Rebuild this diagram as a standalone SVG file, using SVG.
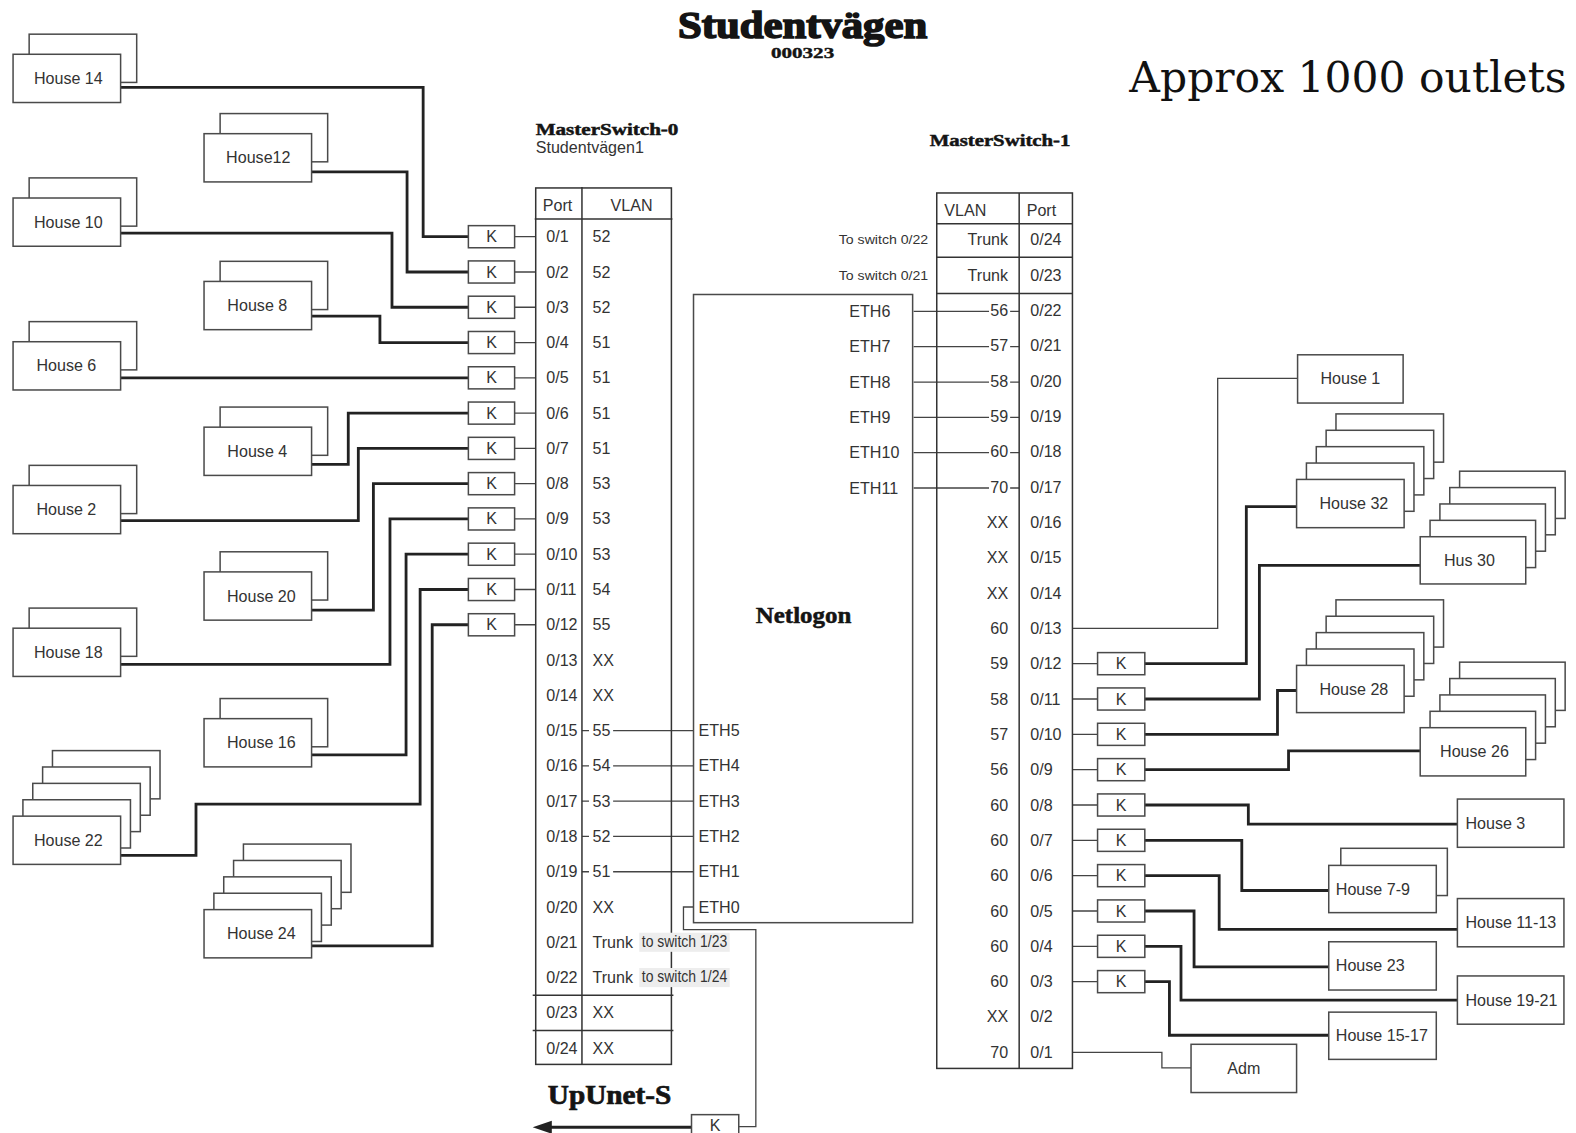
<svg xmlns="http://www.w3.org/2000/svg" width="1576" height="1133" viewBox="0 0 1576 1133">
<style>
.t{font-family:"Liberation Sans",Arial,sans-serif;font-size:16px;fill:#333}
.m{text-anchor:middle}
.e{text-anchor:end}
.s{font-size:13.5px}
.hd{font-family:"Liberation Serif","Times New Roman",serif;font-weight:bold;fill:#141414;stroke:#141414}
.box{fill:#fff;stroke:#4a4a4a;stroke-width:1.5}
.thin{fill:none;stroke:#444;stroke-width:1.3}
.thick{fill:none;stroke:#222;stroke-width:2.8}
.tbl{fill:none;stroke:#333;stroke-width:1.5}
.bg{fill:#ededed}
</style>
<rect width="1576" height="1133" fill="#fff"/>
<g transform="scale(1.0051)">
<g id="titles">
<text class="hd" x="674.5" y="37.5" font-size="38" stroke-width="1.6" textLength="248" lengthAdjust="spacingAndGlyphs">Studentvägen</text>
<text class="hd" x="767" y="58" font-size="15" stroke-width="0.4" textLength="63" lengthAdjust="spacingAndGlyphs">000323</text>
<text x="1123.6" y="91.2" font-family="DejaVu Serif,serif" font-size="42" fill="#111" textLength="435" lengthAdjust="spacingAndGlyphs">Approx 1000 outlets</text>
<text class="hd" x="533" y="134" font-size="17" stroke-width="0.5" textLength="142" lengthAdjust="spacingAndGlyphs">MasterSwitch-0</text>
<text class="t" x="533" y="152.5" font-size="16.5">Studentvägen1</text>
<text class="hd" x="925" y="145" font-size="17" stroke-width="0.5" textLength="140" lengthAdjust="spacingAndGlyphs">MasterSwitch-1</text>
<text class="hd" x="545" y="1098" font-size="27" stroke-width="0.7" textLength="123" lengthAdjust="spacingAndGlyphs">UpUnet-S</text>
</g>

<g id="connectors">
<path class="thick" d="M120,87H421V235.5H466"/>
<path class="thick" d="M310,171H405V270.6H466"/>
<path class="thick" d="M120,232H390V305.7H466"/>
<path class="thick" d="M310,314.5H378V340.8H466"/>
<path class="thick" d="M120,375.9H466"/>
<path class="thick" d="M310,462H346.5V411H466"/>
<path class="thick" d="M120,518H356.5V446.1H466"/>
<path class="thick" d="M310,607H371.5V481.2H466"/>
<path class="thick" d="M120,661H388V516.3H466"/>
<path class="thick" d="M310,751H404V551.4H466"/>
<path class="thick" d="M120,851H195V800H418V586.5H466"/>
<path class="thick" d="M310,941H430V621.6H466"/>
<path class="thin" d="M512,235.5H533M512,270.6H533M512,305.7H533M512,340.8H533M512,375.9H533M512,411H533M512,446.1H533M512,481.2H533M512,516.3H533M512,551.4H533M512,586.5H533M512,621.6H533"/>
<path class="thin" d="M579,726.9H586M610,726.9H690M579,762H586M610,762H690M579,797.1H586M610,797.1H690M579,832.2H586M610,832.2H690M579,867.3H586M610,867.3H690"/>
<path class="thin" d="M690,902.4H680V925H752V1121H735"/>
<path class="thick" d="M688,1121.5H546"/>
<polygon points="530,1121.5 549,1115 549,1128" fill="#222"/>
<path class="thin" d="M909,309.8H984M1005,309.8H1014M909,344.95H984M1005,344.95H1014M909,380.1H984M1005,380.1H1014M909,415.25H984M1005,415.25H1014M909,450.4H984M1005,450.4H1014M909,485.55H984M1005,485.55H1014"/>
<path class="thin" d="M1067,660.3H1092M1067,695.45H1092M1067,730.6H1092M1067,765.75H1092M1067,800.9H1092M1067,836.05H1092M1067,871.2H1092M1067,906.35H1092M1067,941.5H1092M1067,976.65H1092"/>
<path class="thin" d="M1067,625.15H1211.5V376.5H1291"/>
<path class="thin" d="M1067,1046.95H1156V1062.5H1185"/>
<path class="thick" d="M1139,660.3H1240V504H1290"/>
<path class="thick" d="M1139,695.45H1253V562.5H1413"/>
<path class="thick" d="M1139,730.6H1271V687H1290"/>
<path class="thick" d="M1139,765.75H1282V747H1413"/>
<path class="thick" d="M1139,800.9H1242V820H1450"/>
<path class="thick" d="M1139,836.05H1235.5V886H1322"/>
<path class="thick" d="M1139,871.2H1213V924.6H1450"/>
<path class="thick" d="M1139,906.35H1188V962H1322"/>
<path class="thick" d="M1139,941.5H1175V995H1450"/>
<path class="thick" d="M1139,976.65H1163.5V1030H1322"/>
</g>

<g id="house14"><rect class="box" x="29" y="34" width="107" height="48"/><rect class="box" x="13" y="54" width="107" height="48"/><text class="t m" x="68" y="83.5">House 14</text></g>
<g id="house12"><rect class="box" x="219" y="113" width="107" height="48"/><rect class="box" x="203" y="133" width="107" height="48"/><text class="t m" x="257" y="162.5">House12</text></g>
<g id="house10"><rect class="box" x="29" y="177" width="107" height="48"/><rect class="box" x="13" y="197" width="107" height="48"/><text class="t m" x="68" y="226.5">House 10</text></g>
<g id="house8"><rect class="box" x="219" y="260" width="107" height="48"/><rect class="box" x="203" y="280" width="107" height="48"/><text class="t m" x="256" y="309.5">House 8</text></g>
<g id="house6"><rect class="box" x="29" y="320" width="107" height="48"/><rect class="box" x="13" y="340" width="107" height="48"/><text class="t m" x="66" y="369.5">House 6</text></g>
<g id="house4"><rect class="box" x="219" y="405" width="107" height="48"/><rect class="box" x="203" y="425" width="107" height="48"/><text class="t m" x="256" y="454.5">House 4</text></g>
<g id="house2"><rect class="box" x="29" y="463" width="107" height="48"/><rect class="box" x="13" y="483" width="107" height="48"/><text class="t m" x="66" y="512.5">House 2</text></g>
<g id="house20"><rect class="box" x="219" y="549" width="107" height="48"/><rect class="box" x="203" y="569" width="107" height="48"/><text class="t m" x="260" y="598.5">House 20</text></g>
<g id="house18"><rect class="box" x="29" y="605" width="107" height="48"/><rect class="box" x="13" y="625" width="107" height="48"/><text class="t m" x="68" y="654.5">House 18</text></g>
<g id="house16"><rect class="box" x="219" y="695" width="107" height="48"/><rect class="box" x="203" y="715" width="107" height="48"/><text class="t m" x="260" y="744.5">House 16</text></g>
<g id="house22">
<rect class="box" x="52.2" y="746.8" width="107" height="48"/><rect class="box" x="42.4" y="763.1" width="107" height="48"/><rect class="box" x="32.6" y="779.4" width="107" height="48"/><rect class="box" x="22.8" y="795.7" width="107" height="48"/><rect class="box" x="13" y="812" width="107" height="48"/><text class="t m" x="68" y="841.5">House 22</text></g>
<g id="house24">
<rect class="box" x="242.2" y="839.8" width="107" height="48"/><rect class="box" x="232.4" y="856.1" width="107" height="48"/><rect class="box" x="222.6" y="872.4" width="107" height="48"/><rect class="box" x="212.8" y="888.7" width="107" height="48"/><rect class="box" x="203" y="905" width="107" height="48"/><text class="t m" x="260" y="934.5">House 24</text></g>

<g id="kL">
<rect class="box" x="466" y="224.5" width="46" height="22"/><text class="t m" x="489" y="241">K</text>
<rect class="box" x="466" y="259.6" width="46" height="22"/><text class="t m" x="489" y="276.1">K</text>
<rect class="box" x="466" y="294.7" width="46" height="22"/><text class="t m" x="489" y="311.2">K</text>
<rect class="box" x="466" y="329.8" width="46" height="22"/><text class="t m" x="489" y="346.3">K</text>
<rect class="box" x="466" y="364.9" width="46" height="22"/><text class="t m" x="489" y="381.4">K</text>
<rect class="box" x="466" y="400" width="46" height="22"/><text class="t m" x="489" y="416.5">K</text>
<rect class="box" x="466" y="435.1" width="46" height="22"/><text class="t m" x="489" y="451.6">K</text>
<rect class="box" x="466" y="470.2" width="46" height="22"/><text class="t m" x="489" y="486.7">K</text>
<rect class="box" x="466" y="505.3" width="46" height="22"/><text class="t m" x="489" y="521.8">K</text>
<rect class="box" x="466" y="540.4" width="46" height="22"/><text class="t m" x="489" y="556.9">K</text>
<rect class="box" x="466" y="575.5" width="46" height="22"/><text class="t m" x="489" y="592">K</text>
<rect class="box" x="466" y="610.6" width="46" height="22"/><text class="t m" x="489" y="627.1">K</text>
</g>

<g id="masterswitch0">
<rect class="tbl" x="533" y="187" width="135" height="872"/>
<path class="tbl" d="M579,186V1059M532,218H669M530,990.2H670M530,1025.2H670"/>
<text class="t" x="540" y="209.5">Port</text><text class="t" x="607.5" y="209.5">VLAN</text>
<g class="t">
<text x="543.5" y="241">0/1</text><text x="589.5" y="241">52</text>
<text x="543.5" y="276.1">0/2</text><text x="589.5" y="276.1">52</text>
<text x="543.5" y="311.2">0/3</text><text x="589.5" y="311.2">52</text>
<text x="543.5" y="346.3">0/4</text><text x="589.5" y="346.3">51</text>
<text x="543.5" y="381.4">0/5</text><text x="589.5" y="381.4">51</text>
<text x="543.5" y="416.5">0/6</text><text x="589.5" y="416.5">51</text>
<text x="543.5" y="451.6">0/7</text><text x="589.5" y="451.6">51</text>
<text x="543.5" y="486.7">0/8</text><text x="589.5" y="486.7">53</text>
<text x="543.5" y="521.8">0/9</text><text x="589.5" y="521.8">53</text>
<text x="543.5" y="556.9">0/10</text><text x="589.5" y="556.9">53</text>
<text x="543.5" y="592">0/11</text><text x="589.5" y="592">54</text>
<text x="543.5" y="627.1">0/12</text><text x="589.5" y="627.1">55</text>
<text x="543.5" y="662.2">0/13</text><text x="589.5" y="662.2">XX</text>
<text x="543.5" y="697.3">0/14</text><text x="589.5" y="697.3">XX</text>
<text x="543.5" y="732.4">0/15</text><text x="589.5" y="732.4">55</text>
<text x="543.5" y="767.5">0/16</text><text x="589.5" y="767.5">54</text>
<text x="543.5" y="802.6">0/17</text><text x="589.5" y="802.6">53</text>
<text x="543.5" y="837.7">0/18</text><text x="589.5" y="837.7">52</text>
<text x="543.5" y="872.8">0/19</text><text x="589.5" y="872.8">51</text>
<text x="543.5" y="907.9">0/20</text><text x="589.5" y="907.9">XX</text>
<text x="543.5" y="943">0/21</text><text x="589.5" y="943">Trunk</text>
<text x="543.5" y="978.1">0/22</text><text x="589.5" y="978.1">Trunk</text>
<text x="543.5" y="1013.2">0/23</text><text x="589.5" y="1013.2">XX</text>
<text x="543.5" y="1048.3">0/24</text><text x="589.5" y="1048.3">XX</text>
</g>
<rect class="bg" x="636" y="928" width="90" height="19"/>
<rect class="bg" x="636" y="963.1" width="90" height="19"/>
<text class="t" x="638.5" y="942" font-size="13.5" textLength="85" lengthAdjust="spacingAndGlyphs">to switch 1/23</text>
<text class="t" x="638.5" y="977.1" font-size="13.5" textLength="85" lengthAdjust="spacingAndGlyphs">to switch 1/24</text>
</g>

<g id="netlogon">
<rect class="box" x="690" y="293" width="218" height="625" fill="none"/>
<text class="hd" x="752" y="620" font-size="22" stroke-width="0.5" textLength="95" lengthAdjust="spacingAndGlyphs">Netlogon</text>
<g class="t">
<text x="845" y="315.3">ETH6</text>
<text x="845" y="350.45">ETH7</text>
<text x="845" y="385.6">ETH8</text>
<text x="845" y="420.75">ETH9</text>
<text x="845" y="455.9">ETH10</text>
<text x="845" y="491.05">ETH11</text>
<text x="695" y="732.4">ETH5</text>
<text x="695" y="767.5">ETH4</text>
<text x="695" y="802.6">ETH3</text>
<text x="695" y="837.7">ETH2</text>
<text x="695" y="872.8">ETH1</text>
<text x="695" y="907.9">ETH0</text>
</g>
</g>

<g id="kUp"><rect class="box" x="688" y="1109" width="47" height="28"/><text class="t m" x="711.5" y="1125">K</text></g>

<g id="masterswitch1">
<rect class="tbl" x="932" y="192" width="135" height="871"/>
<path class="tbl" d="M1014,192V1063M932,222.5H1067M932,256H1067M932,292H1067"/>
<text class="t" x="939.5" y="214.5">VLAN</text><text class="t" x="1021.5" y="214.5">Port</text>
<text class="t s e" x="923.5" y="243" textLength="89" lengthAdjust="spacingAndGlyphs">To switch 0/22</text>
<text class="t s e" x="923.5" y="278.2" textLength="89" lengthAdjust="spacingAndGlyphs">To switch 0/21</text>
<g class="t">
<text class="e" x="1003" y="244">Trunk</text><text x="1025" y="244">0/24</text>
<text class="e" x="1003" y="279.15">Trunk</text><text x="1025" y="279.15">0/23</text>
<text class="e" x="1003" y="314.3">56</text><text x="1025" y="314.3">0/22</text>
<text class="e" x="1003" y="349.45">57</text><text x="1025" y="349.45">0/21</text>
<text class="e" x="1003" y="384.6">58</text><text x="1025" y="384.6">0/20</text>
<text class="e" x="1003" y="419.75">59</text><text x="1025" y="419.75">0/19</text>
<text class="e" x="1003" y="454.9">60</text><text x="1025" y="454.9">0/18</text>
<text class="e" x="1003" y="490.05">70</text><text x="1025" y="490.05">0/17</text>
<text class="e" x="1003" y="525.2">XX</text><text x="1025" y="525.2">0/16</text>
<text class="e" x="1003" y="560.35">XX</text><text x="1025" y="560.35">0/15</text>
<text class="e" x="1003" y="595.5">XX</text><text x="1025" y="595.5">0/14</text>
<text class="e" x="1003" y="630.65">60</text><text x="1025" y="630.65">0/13</text>
<text class="e" x="1003" y="665.8">59</text><text x="1025" y="665.8">0/12</text>
<text class="e" x="1003" y="700.95">58</text><text x="1025" y="700.95">0/11</text>
<text class="e" x="1003" y="736.1">57</text><text x="1025" y="736.1">0/10</text>
<text class="e" x="1003" y="771.25">56</text><text x="1025" y="771.25">0/9</text>
<text class="e" x="1003" y="806.4">60</text><text x="1025" y="806.4">0/8</text>
<text class="e" x="1003" y="841.55">60</text><text x="1025" y="841.55">0/7</text>
<text class="e" x="1003" y="876.7">60</text><text x="1025" y="876.7">0/6</text>
<text class="e" x="1003" y="911.85">60</text><text x="1025" y="911.85">0/5</text>
<text class="e" x="1003" y="947">60</text><text x="1025" y="947">0/4</text>
<text class="e" x="1003" y="982.15">60</text><text x="1025" y="982.15">0/3</text>
<text class="e" x="1003" y="1017.3">XX</text><text x="1025" y="1017.3">0/2</text>
<text class="e" x="1003" y="1052.45">70</text><text x="1025" y="1052.45">0/1</text>
</g>
</g>

<g id="kR">
<rect class="box" x="1092" y="649.3" width="47" height="22"/><text class="t m" x="1115.5" y="665.8">K</text>
<rect class="box" x="1092" y="684.45" width="47" height="22"/><text class="t m" x="1115.5" y="700.95">K</text>
<rect class="box" x="1092" y="719.6" width="47" height="22"/><text class="t m" x="1115.5" y="736.1">K</text>
<rect class="box" x="1092" y="754.75" width="47" height="22"/><text class="t m" x="1115.5" y="771.25">K</text>
<rect class="box" x="1092" y="789.9" width="47" height="22"/><text class="t m" x="1115.5" y="806.4">K</text>
<rect class="box" x="1092" y="825.05" width="47" height="22"/><text class="t m" x="1115.5" y="841.55">K</text>
<rect class="box" x="1092" y="860.2" width="47" height="22"/><text class="t m" x="1115.5" y="876.7">K</text>
<rect class="box" x="1092" y="895.35" width="47" height="22"/><text class="t m" x="1115.5" y="911.85">K</text>
<rect class="box" x="1092" y="930.5" width="47" height="22"/><text class="t m" x="1115.5" y="947">K</text>
<rect class="box" x="1092" y="965.65" width="47" height="22"/><text class="t m" x="1115.5" y="982.15">K</text>
</g>

<g id="house1"><rect class="box" x="1291" y="353" width="105" height="48"/><text class="t m" x="1343.5" y="382.5">House 1</text></g>
<g id="house32">
<rect class="box" x="1329.2" y="411.8" width="107" height="48"/><rect class="box" x="1319.4" y="428.1" width="107" height="48"/><rect class="box" x="1309.6" y="444.4" width="107" height="48"/><rect class="box" x="1299.8" y="460.7" width="107" height="48"/><rect class="box" x="1290" y="477" width="107" height="48"/><text class="t m" x="1347" y="506.5">House 32</text></g>
<g id="hus30">
<rect class="box" x="1452.2" y="468.8" width="105" height="47"/><rect class="box" x="1442.4" y="485.1" width="105" height="47"/><rect class="box" x="1432.6" y="501.4" width="105" height="47"/><rect class="box" x="1422.8" y="517.7" width="105" height="47"/><rect class="box" x="1413" y="534" width="105" height="47"/><text class="t m" x="1462" y="563">Hus 30</text></g>
<g id="house28">
<rect class="box" x="1329.2" y="596.8" width="107" height="47"/><rect class="box" x="1319.4" y="613.1" width="107" height="47"/><rect class="box" x="1309.6" y="629.4" width="107" height="47"/><rect class="box" x="1299.8" y="645.7" width="107" height="47"/><rect class="box" x="1290" y="662" width="107" height="47"/><text class="t m" x="1347" y="691">House 28</text></g>
<g id="house26">
<rect class="box" x="1452.2" y="658.8" width="105" height="48"/><rect class="box" x="1442.4" y="675.1" width="105" height="48"/><rect class="box" x="1432.6" y="691.4" width="105" height="48"/><rect class="box" x="1422.8" y="707.7" width="105" height="48"/><rect class="box" x="1413" y="724" width="105" height="48"/><text class="t m" x="1467" y="753.5">House 26</text></g>
<g id="house3"><rect class="box" x="1450" y="795" width="106" height="48"/><text class="t" x="1458" y="824.5">House 3</text></g>
<g id="house7-9"><rect class="box" x="1334" y="844" width="106" height="47"/><rect class="box" x="1322" y="861" width="107" height="47"/><text class="t" x="1329" y="890">House 7-9</text></g>
<g id="house11-13"><rect class="box" x="1450" y="894" width="106" height="48"/><text class="t" x="1458" y="923.5">House 11-13</text></g>
<g id="house23"><rect class="box" x="1322" y="937" width="107" height="48"/><text class="t" x="1329" y="966.5">House 23</text></g>
<g id="house19-21"><rect class="box" x="1450" y="971" width="106" height="48"/><text class="t" x="1458" y="1000.5">House 19-21</text></g>
<g id="house15-17"><rect class="box" x="1322" y="1007" width="107" height="47"/><text class="t" x="1329" y="1036">House 15-17</text></g>
<g id="adm"><rect class="box" x="1185" y="1039" width="105" height="48"/><text class="t m" x="1237.5" y="1068.5">Adm</text></g>
</g>
</svg>
